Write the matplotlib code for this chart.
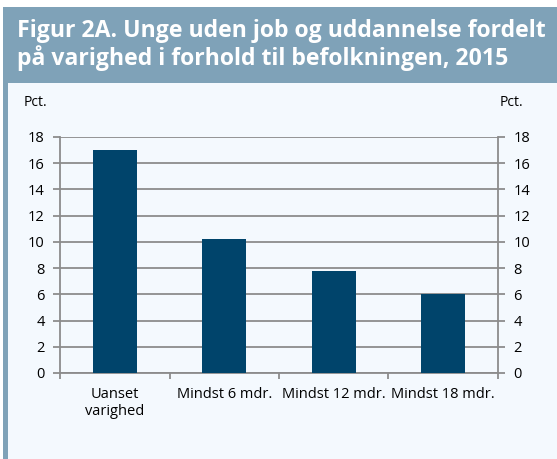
import matplotlib.pyplot as plt
from matplotlib.patches import Rectangle

# data
categories = ['Uanset\nvarighed', 'Mindst 6 mdr.', 'Mindst 12 mdr.', 'Mindst 18 mdr.']
values = [17.0, 10.2, 7.75, 6.0]
yticks = list(range(0, 19, 2))

title = 'Figur 2A. Unge uden job og uddannelse fordelt\npå varighed i forhold til befolkningen, 2015'

W, H = 557, 459
fig = plt.figure(figsize=(W / 100, H / 100), dpi=100)
plt.rcParams['font.family'] = ['Open Sans', 'DejaVu Sans']

# header box and panel
fig.patches.append(Rectangle((3 / W, 0), 554 / W, 1 - 83 / H, transform=fig.transFigure,
                             facecolor='#f4f9fe', edgecolor='none', zorder=-2))
fig.patches.append(Rectangle((3 / W, 1 - 83 / H), 554 / W, 76 / H, transform=fig.transFigure,
                             facecolor='#7fa2b8', edgecolor='none', zorder=-2))
fig.patches.append(Rectangle((3 / W, 0), 5 / W, 1 - 83 / H, transform=fig.transFigure,
                             facecolor='#7fa2b8', edgecolor='none', zorder=-2))
fig.text(17 / W, 1 - 45 / H, title, color='white', fontsize=16.6, fontweight='bold',
         va='center', ha='left', linespacing=1.15)

ax = fig.add_axes([60 / W, 1 - 373 / H, 438 / W, 236 / H])
ax.set_zorder(2)
ax.set_facecolor('none')
x = range(len(categories))
ax.bar(x, values, width=0.4, color='#00446b', zorder=3)
ax.set_xlim(-0.5, len(categories) - 0.5)
ax.set_ylim(0, 18)
ax.set_yticks(yticks)
ax.yaxis.grid(True, color='#8c8c8c', linewidth=1.3, zorder=1)
ax.set_axisbelow(True)
ax.set_xticks(x)
ax.set_xticklabels(categories, fontsize=10.5)
ax.set_xticks([i - 0.5 for i in range(len(categories) + 1)], minor=True)
ax.tick_params(axis='x', which='major', length=0, pad=10)
ax.tick_params(axis='x', which='minor', length=4, color='#8c8c8c', width=1.3)
ax.tick_params(axis='y', length=5, color='#8c8c8c', width=1.3, labelsize=10.5, pad=6)
ax.tick_params(axis='y', right=True, labelright=True)
ax.spines['top'].set_visible(False)
for s in ['left', 'right', 'bottom']:
    ax.spines[s].set_color('#8c8c8c')
    ax.spines[s].set_linewidth(1.3)

fig.text(24 / W, 1 - 103 / H, 'Pct.', fontsize=10, va='center', ha='left')
fig.text(500 / W, 1 - 103 / H, 'Pct.', fontsize=10, va='center', ha='left')

fig.savefig('out.png', dpi=100)
